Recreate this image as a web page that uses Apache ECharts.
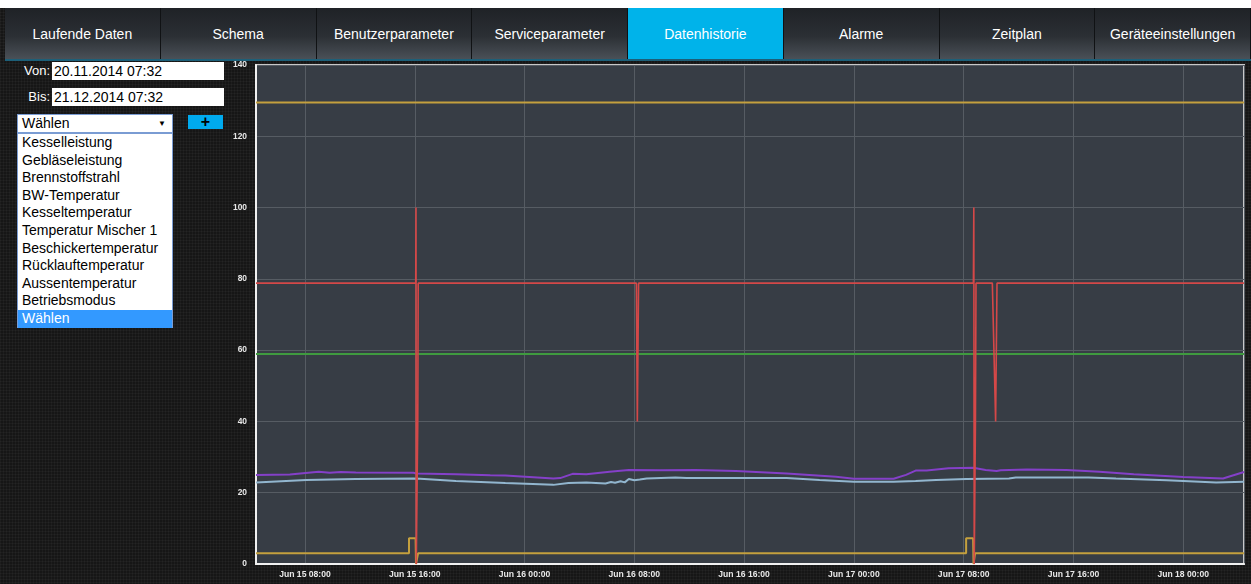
<!DOCTYPE html>
<html>
<head>
<meta charset="utf-8">
<script src="https://cdn.jsdelivr.net/npm/echarts@6/dist/echarts.min.js"></script>
<style>
  html,body{margin:0;padding:0;width:1251px;height:584px;overflow:hidden;background:#151515;font-family:"Liberation Sans",Arial,sans-serif;}
  body{background-color:#161616;background-image:linear-gradient(rgba(255,255,255,0.03) 1px,transparent 1px),linear-gradient(90deg,rgba(255,255,255,0.03) 1px,transparent 1px);background-size:3px 3px;}
  #top{position:absolute;left:0;top:0;width:1251px;height:8px;background:#fff;}
  #nav{position:absolute;left:5px;top:8px;width:1246px;height:51px;display:flex;border-bottom:2px solid #1d5f78;}
  .tab{flex:1;height:51px;line-height:52px;text-align:center;color:#fff;font-size:14px;background:linear-gradient(#1f2226,#2b2f34 55%,#4a5057);border-right:1px solid #101214;box-sizing:border-box;}
  .tab.active{background:#00b3ea;}
  .lbl{position:absolute;color:#fff;font-size:13px;text-align:right;}
  .inp{position:absolute;background:#fff;color:#000;font-size:14px;box-sizing:border-box;padding-left:2px;line-height:18px;}
  #sel{position:absolute;left:17px;top:114px;width:156px;height:19px;background:#fff;border:1px solid #7a9cd3;box-sizing:border-box;font-size:14px;line-height:17px;padding-left:4px;color:#000;}
  #sel span{position:absolute;right:6px;top:0;font-size:8px;}
  #plus{position:absolute;left:188px;top:115px;width:35px;height:14px;background:#00aaee;color:#000;font-weight:bold;text-align:center;font-size:16px;line-height:13px;}
  #list{position:absolute;left:17px;top:133px;width:156px;height:195px;background:#fff;border:1px solid #7a9cd3;box-sizing:border-box;}
  .it{height:17.6px;line-height:17.6px;font-size:14px;color:#000;padding-left:4px;white-space:nowrap;}
  .it.hl{background:#3399ff;color:#fff;}
  #chart{position:absolute;left:215px;top:60px;width:1036px;height:524px;}
</style>
</head>
<body>
<div id="top"></div>
<div id="nav"></div>
<div class="lbl" style="left:10px;top:63px;width:40px;">Von:</div>
<div class="inp" style="left:52px;top:62px;width:172px;height:18px;">20.11.2014 07:32</div>
<div class="lbl" style="left:10px;top:89px;width:40px;">Bis:</div>
<div class="inp" style="left:52px;top:88px;width:172px;height:18px;">21.12.2014 07:32</div>
<div id="sel">Wählen<span>▼</span></div>
<div id="plus">+</div>
<div id="list"></div>
<div id="chart"></div>
<script>
// ---- data ----
const tabs = ["Laufende Daten","Schema","Benutzerparameter","Serviceparameter","Datenhistorie","Alarme","Zeitplan","Geräteeinstellungen"];
const activeTab = "Datenhistorie";
const listItems = ["Kesselleistung","Gebläseleistung","Brennstoffstrahl","BW-Temperatur","Kesseltemperatur","Temperatur Mischer 1","Beschickertemperatur","Rücklauftemperatur","Aussentemperatur","Betriebsmodus","Wählen"];

// x values: hours since Jun 15 00:00
const xMin = 4.43, xMax = 76.43;
const yTicks = [0,20,40,60,80,100,120,140];

const goldTop = [[4.43,129.5],[76.43,129.5]];
const green = [[4.43,58.9],[76.43,58.9]];
const goldBottom = [[4.43,3],[15.58,3],[15.58,7.2],[16.06,7.2],[16.09,0],[16.22,0],[16.24,3],[56.18,3],[56.18,7.2],[56.69,7.2],[56.72,0],[56.81,0],[56.83,3],[76.43,3]];
const red = [[4.43,78.8],[16.07,78.8],[16.09,100],[16.11,0],[16.22,40],[16.25,78.8],[32.15,78.8],[32.22,40],[32.31,78.8],[56.71,78.8],[56.74,100],[56.77,0],[56.86,40],[56.9,78.8],[58.09,78.8],[58.33,40],[58.43,78.8],[76.43,78.8]];
const purple = [[4.43,25.0],[6.9,25.1],[9.0,25.9],[9.8,25.6],[10.6,25.8],[11.7,25.7],[15.9,25.6],[16.1,25.4],[19.0,25.2],[21.5,24.9],[22.6,24.8],[26.1,24.0],[26.6,24.1],[27.5,25.3],[28.5,25.2],[30.2,25.9],[31.6,26.4],[33.9,26.3],[36.5,26.4],[39.4,26.1],[43.1,25.4],[46.7,24.5],[48.0,23.9],[50.9,23.9],[51.8,25.0],[52.5,26.2],[53.3,26.2],[54.9,26.85],[56.7,27.0],[57.6,26.4],[58.4,26.1],[58.7,26.3],[60.6,26.5],[63.5,26.4],[65.9,25.9],[68.4,25.2],[72.0,24.4],[74.9,24.0],[76.43,25.8]];
const blue = [[4.43,22.9],[8.1,23.6],[11.7,23.85],[15.9,24.0],[16.4,23.9],[19.0,23.3],[22.6,22.7],[26.1,22.2],[27.2,22.7],[28.5,22.9],[29.9,22.6],[30.3,23.0],[30.6,22.8],[31.0,23.2],[31.3,22.9],[31.6,23.85],[32.0,23.5],[32.4,23.7],[32.9,24.0],[35.0,24.3],[35.8,24.1],[43.1,24.1],[45.5,23.6],[48.0,23.1],[50.9,23.1],[52.5,23.3],[54.0,23.6],[56.2,23.85],[59.3,24.0],[59.8,24.3],[65.1,24.3],[67.1,24.0],[70.8,23.5],[74.4,22.9],[76.43,23.1]];

// ---- UI ----
const nav = document.getElementById('nav');
tabs.forEach(t => { const d = document.createElement('div'); d.className = 'tab' + (t === activeTab ? ' active' : ''); d.textContent = t; nav.appendChild(d); });
const list = document.getElementById('list');
listItems.forEach((t, i) => { const d = document.createElement('div'); d.className = 'it' + (i === listItems.length - 1 ? ' hl' : ''); d.textContent = t; list.appendChild(d); });

// ---- chart ----
function fmtX(h) {
  const day = 15 + Math.floor(h / 24 + 1e-9);
  const hh = Math.round(h - (day - 15) * 24);
  return 'Jun ' + day + ' ' + String(hh).padStart(2, '0') + ':00';
}
const chart = echarts.init(document.getElementById('chart'), null, {renderer: 'canvas'});
const mk = (data, color, width, z) => ({type: 'line', data, symbol: 'none', smooth: false, animation: false, lineStyle: {color, width}, z, emphasis: {disabled: true}});
chart.setOption({
  animation: false,
  backgroundColor: 'transparent',
  grid: {left: 41, top: 5, right: 7, bottom: 20, show: true, backgroundColor: '#373d45', borderColor: '#c8c8c8', borderWidth: 2},
  xAxis: {
    type: 'value', min: xMin, max: xMax, minInterval: 8, maxInterval: 8, splitNumber: 9,
    axisLine: {show: true, onZero: false, lineStyle: {color: '#f0f0f0', width: 2}},
    axisTick: {show: false},
    splitLine: {show: true, lineStyle: {color: '#565c63', width: 1}},
    axisLabel: {color: '#e8e8e8', fontSize: 8.6, fontWeight: 'bold', margin: 6, showMinLabel: false, showMaxLabel: false, formatter: fmtX}
  },
  yAxis: {
    type: 'value', min: yTicks[0], max: yTicks[yTicks.length - 1], interval: 20,
    axisLine: {show: true, lineStyle: {color: '#f0f0f0', width: 2}},
    axisTick: {show: false},
    splitLine: {show: true, lineStyle: {color: '#565c63', width: 1}},
    axisLabel: {color: '#e8e8e8', fontSize: 8.4, fontWeight: 'bold', margin: 9}
  },
  series: [
    mk(goldTop, '#c4a03e', 2, 2),
    mk(green, '#3f9a3f', 2, 2),
    mk(blue, '#92b6cf', 2, 3),
    mk(purple, '#8440c8', 2, 3),
    mk(goldBottom, '#c4a03e', 2, 4),
    mk(red, '#d44848', 1.6, 5)
  ]
});
</script>
</body>
</html>
